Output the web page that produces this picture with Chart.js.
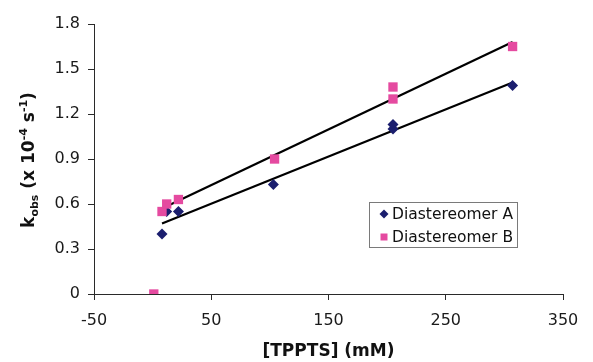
<!DOCTYPE html>
<html>
<head>
<meta charset="utf-8">
<script src="https://cdn.jsdelivr.net/npm/chart.js@4.4.1/dist/chart.umd.min.js"></script>
<style>
  html, body { margin: 0; padding: 0; background: #fff; }
</style>
</head>
<body>
<canvas id="kobsChart" width="593" height="362"></canvas>
<script>
const xTicks = [-50, 50, 150, 250, 350];
const yTicks = [0, 0.3, 0.6, 0.9, 1.2, 1.5, 1.8];

const concA = [8, 12, 22, 103, 205, 205, 307];
const kobsA = [0.40, 0.55, 0.55, 0.73, 1.10, 1.13, 1.39];

const concB = [1, 8, 12, 22, 104, 205, 205, 307];
const kobsB = [0, 0.55, 0.60, 0.63, 0.90, 1.30, 1.38, 1.65];

// trendline end points
const fitX = [8, 307];
const fitA = [0.47, 1.41];
const fitB = [0.57, 1.68];

const navy = '#1b1e6e';
const pink = '#e54aa0';
const axisColor = '#2a2a2a';

const pts = (xs, ys) => xs.map((x, i) => ({ x: x, y: ys[i] }));

Chart.defaults.font.family = 'DejaVu Sans';
Chart.defaults.color = '#1a1a1a';

// y title with subscript / superscripts
const yTitle = [
  { t: 'k', s: 0 },
  { t: 'obs', s: 1 },
  { t: ' (x 10', s: 0 },
  { t: '-4', s: -1 },
  { t: ' s', s: 0 },
  { t: '-1', s: -1 },
  { t: ')', s: 0 }
];

const yTitlePlugin = {
  id: 'yTitle',
  afterDraw(chart) {
    const ctx = chart.ctx;
    const big = 'bold 17px "DejaVu Sans"';
    const small = 'bold 11px "DejaVu Sans"';
    ctx.save();
    let w = 0;
    yTitle.forEach(p => {
      ctx.font = p.s ? small : big;
      w += ctx.measureText(p.t).width;
    });
    ctx.translate(34, 160);
    ctx.rotate(-Math.PI / 2);
    ctx.fillStyle = '#111';
    ctx.textBaseline = 'alphabetic';
    let x = -w / 2;
    yTitle.forEach(p => {
      ctx.font = p.s ? small : big;
      const dy = p.s === 1 ? 4 : (p.s === -1 ? -7 : 0);
      ctx.fillText(p.t, x, dy);
      x += ctx.measureText(p.t).width;
    });
    ctx.restore();
  }
};

const legendPlugin = {
  id: 'boxLegend',
  afterDraw(chart) {
    const ctx = chart.ctx;
    const ca = chart.chartArea;
    const bx = ca.right - 194, by = ca.top + 178, bw = 148, bh = 45;
    ctx.save();
    ctx.fillStyle = '#fff';
    ctx.fillRect(bx, by, bw, bh);
    ctx.strokeStyle = '#7a7a7a';
    ctx.lineWidth = 1;
    ctx.strokeRect(bx + 0.5, by + 0.5, bw, bh);
    ctx.font = '15.5px "DejaVu Sans"';
    ctx.textBaseline = 'middle';
    ctx.fillStyle = '#111';
    const sets = [chart.data.datasets[0], chart.data.datasets[1]];
    sets.forEach((ds, i) => {
      const cy = by + 12 + i * 23;
      const mx = bx + 15;
      ctx.fillStyle = ds.backgroundColor;
      ctx.beginPath();
      if (ds.pointStyle === 'rectRot') {
        ctx.moveTo(mx, cy - 4.5); ctx.lineTo(mx + 4.5, cy);
        ctx.lineTo(mx, cy + 4.5); ctx.lineTo(mx - 4.5, cy);
      } else {
        ctx.rect(mx - 3.5, cy - 3.5, 7, 7);
      }
      ctx.closePath();
      ctx.fill();
      ctx.fillStyle = '#111';
      ctx.fillText(ds.label, bx + 23, cy + 1);
    });
    ctx.restore();
  }
};

new Chart(document.getElementById('kobsChart'), {
  type: 'scatter',
  data: {
    datasets: [
      {
        label: 'Diastereomer A',
        data: pts(concA, kobsA),
        pointStyle: 'rectRot',
        pointRadius: 5.5,
        backgroundColor: navy,
        borderColor: navy,
        borderWidth: 0,
        order: 2
      },
      {
        label: 'Diastereomer B',
        data: pts(concB, kobsB),
        pointStyle: 'rect',
        pointRadius: 6.6,
        backgroundColor: pink,
        borderColor: pink,
        borderWidth: 0,
        order: 1
      },
      {
        label: 'fit A',
        type: 'line',
        data: pts(fitX, fitA),
        borderColor: '#000',
        borderWidth: 2.2,
        pointRadius: 0,
        fill: false,
        order: 3
      },
      {
        label: 'fit B',
        type: 'line',
        data: pts(fitX, fitB),
        borderColor: '#000',
        borderWidth: 2.2,
        pointRadius: 0,
        fill: false,
        order: 3
      }
    ]
  },
  options: {
    responsive: false,
    animation: false,
    devicePixelRatio: 1,
    layout: {
      padding: { top: 24, right: 30, left: 0, bottom: 0 }
    },
    plugins: {
      legend: { display: false },
      tooltip: { enabled: false }
    },
    scales: {
      x: {
        type: 'linear',
        min: -50,
        max: 350,
        afterBuildTicks: s => { s.ticks = xTicks.map(v => ({ value: v })); },
        afterFit: s => { s.height = 68; },
        ticks: {
          padding: 11,
          font: { size: 16 },
          color: '#1a1a1a'
        },
        grid: {
          drawOnChartArea: false,
          tickLength: 6,
          color: axisColor
        },
        border: { color: axisColor, width: 1 },
        title: {
          display: true,
          text: '[TPPTS] (mM)',
          font: { size: 17, weight: 'bold' },
          color: '#111',
          padding: { top: 0, bottom: 0 }
        }
      },
      y: {
        type: 'linear',
        min: 0,
        max: 1.8,
        afterBuildTicks: s => { s.ticks = yTicks.map(v => ({ value: v })); },
        afterFit: s => { s.width = 94; },
        ticks: {
          padding: 8,
          font: { size: 16 },
          color: '#1a1a1a',
          callback: v => String(v)
        },
        grid: {
          drawOnChartArea: false,
          tickLength: 6,
          color: axisColor
        },
        border: { color: axisColor, width: 1 }
      }
    }
  },
  plugins: [yTitlePlugin, legendPlugin]
});
</script>
</body>
</html>
